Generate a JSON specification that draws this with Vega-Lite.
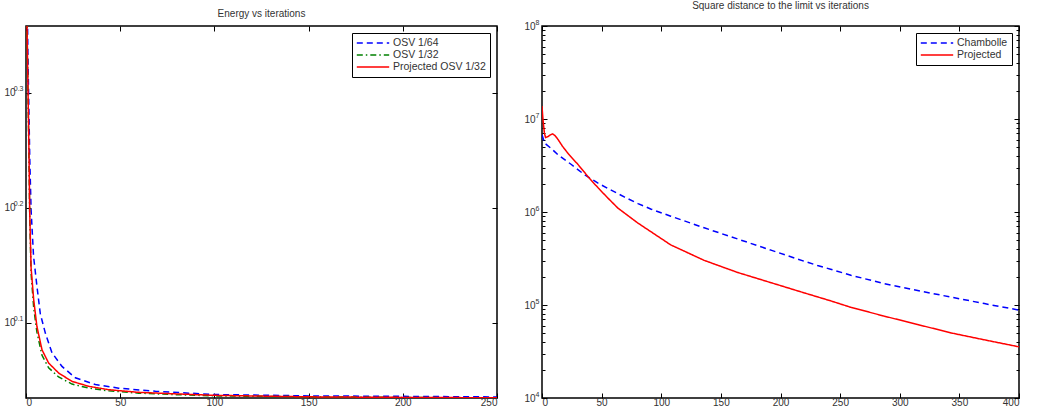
{
  "$schema": "https://vega.github.io/schema/vega-lite/v6.json",
  "padding": {"left": 3, "right": 2, "top": 0, "bottom": 0},
  "spacing": 24,
  "config": {
    "font": "Liberation Sans",
    "view": {"stroke": "black", "strokeWidth": 1.5},
    "axis": {"domain": false, "grid": false, "title": null, "tickColor": "black", "tickSize": -5, "tickWidth": 1, "labelFontSize": 10, "labelColor": "#333", "labelPadding": 4},
    "title": {"fontSize": 10, "fontWeight": "normal", "color": "#333", "offset": 7},
    "legend": {"orient": "top-right", "offset": 7, "strokeColor": "black", "fillColor": "white", "padding": 4, "labelFontSize": 10.5, "labelColor": "#333", "symbolType": "stroke", "symbolSize": 1050, "symbolStrokeWidth": 1.5, "rowPadding": 0, "clipHeight": 12, "labelOffset": 3, "title": null}
  },
  "datasets": {
    "energy": [
      {"it": 0, "v": 3.0, "s": "OSV 1/64"},
      {"it": 1, "v": 2.163, "s": "OSV 1/64"},
      {"it": 2, "v": 1.750, "s": "OSV 1/64"},
      {"it": 2.7, "v": 1.578, "s": "OSV 1/64"},
      {"it": 4, "v": 1.439, "s": "OSV 1/64"},
      {"it": 5.8, "v": 1.355, "s": "OSV 1/64"},
      {"it": 7.6, "v": 1.282, "s": "OSV 1/64"},
      {"it": 10.3, "v": 1.233, "s": "OSV 1/64"},
      {"it": 13.8, "v": 1.186, "s": "OSV 1/64"},
      {"it": 19.1, "v": 1.154, "s": "OSV 1/64"},
      {"it": 26.2, "v": 1.128, "s": "OSV 1/64"},
      {"it": 36.8, "v": 1.113, "s": "OSV 1/64"},
      {"it": 49.2, "v": 1.105, "s": "OSV 1/64"},
      {"it": 68.7, "v": 1.098, "s": "OSV 1/64"},
      {"it": 86.4, "v": 1.094, "s": "OSV 1/64"},
      {"it": 100, "v": 1.091, "s": "OSV 1/64"},
      {"it": 150, "v": 1.088, "s": "OSV 1/64"},
      {"it": 200, "v": 1.087, "s": "OSV 1/64"},
      {"it": 250, "v": 1.0857, "s": "OSV 1/64"},
      {"it": 0, "v": 3.98, "s": "OSV 1/32"},
      {"it": 0.5, "v": 2.30, "s": "OSV 1/32"},
      {"it": 1.06, "v": 1.995, "s": "OSV 1/32"},
      {"it": 1.6, "v": 1.738, "s": "OSV 1/32"},
      {"it": 1.95, "v": 1.567, "s": "OSV 1/32"},
      {"it": 2.7, "v": 1.390, "s": "OSV 1/32"},
      {"it": 4.1, "v": 1.297, "s": "OSV 1/32"},
      {"it": 5.8, "v": 1.236, "s": "OSV 1/32"},
      {"it": 8.5, "v": 1.180, "s": "OSV 1/32"},
      {"it": 12, "v": 1.151, "s": "OSV 1/32"},
      {"it": 17.3, "v": 1.130, "s": "OSV 1/32"},
      {"it": 24.4, "v": 1.114, "s": "OSV 1/32"},
      {"it": 33.3, "v": 1.105, "s": "OSV 1/32"},
      {"it": 43.9, "v": 1.099, "s": "OSV 1/32"},
      {"it": 59.8, "v": 1.094, "s": "OSV 1/32"},
      {"it": 77.5, "v": 1.091, "s": "OSV 1/32"},
      {"it": 100, "v": 1.088, "s": "OSV 1/32"},
      {"it": 150, "v": 1.086, "s": "OSV 1/32"},
      {"it": 200, "v": 1.0845, "s": "OSV 1/32"},
      {"it": 250, "v": 1.0837, "s": "OSV 1/32"},
      {"it": 0, "v": 3.98, "s": "Projected OSV 1/32"},
      {"it": 0.5, "v": 2.30, "s": "Projected OSV 1/32"},
      {"it": 1.06, "v": 2.009, "s": "Projected OSV 1/32"},
      {"it": 1.6, "v": 1.758, "s": "Projected OSV 1/32"},
      {"it": 1.95, "v": 1.578, "s": "Projected OSV 1/32"},
      {"it": 2.7, "v": 1.406, "s": "Projected OSV 1/32"},
      {"it": 4.1, "v": 1.318, "s": "Projected OSV 1/32"},
      {"it": 5.8, "v": 1.250, "s": "Projected OSV 1/32"},
      {"it": 8.5, "v": 1.193, "s": "Projected OSV 1/32"},
      {"it": 12, "v": 1.162, "s": "Projected OSV 1/32"},
      {"it": 17.3, "v": 1.139, "s": "Projected OSV 1/32"},
      {"it": 24.4, "v": 1.120, "s": "Projected OSV 1/32"},
      {"it": 33.3, "v": 1.109, "s": "Projected OSV 1/32"},
      {"it": 43.9, "v": 1.1015, "s": "Projected OSV 1/32"},
      {"it": 59.8, "v": 1.0957, "s": "Projected OSV 1/32"},
      {"it": 77.5, "v": 1.0927, "s": "Projected OSV 1/32"},
      {"it": 100, "v": 1.0892, "s": "Projected OSV 1/32"},
      {"it": 150, "v": 1.0859, "s": "Projected OSV 1/32"},
      {"it": 200, "v": 1.0847, "s": "Projected OSV 1/32"},
      {"it": 250, "v": 1.0839, "s": "Projected OSV 1/32"}
    ],
    "dist": [
      {"it": 0, "v": 6760000, "s": "Chambolle"},
      {"it": 2.2, "v": 5500000, "s": "Chambolle"},
      {"it": 8, "v": 4790000, "s": "Chambolle"},
      {"it": 13.4, "v": 4130000, "s": "Chambolle"},
      {"it": 24.6, "v": 3240000, "s": "Chambolle"},
      {"it": 35.8, "v": 2510000, "s": "Chambolle"},
      {"it": 47, "v": 2040000, "s": "Chambolle"},
      {"it": 58, "v": 1718000, "s": "Chambolle"},
      {"it": 69.3, "v": 1445000, "s": "Chambolle"},
      {"it": 80.5, "v": 1230000, "s": "Chambolle"},
      {"it": 91.6, "v": 1072000, "s": "Chambolle"},
      {"it": 108, "v": 901600, "s": "Chambolle"},
      {"it": 136, "v": 676100, "s": "Chambolle"},
      {"it": 164, "v": 512900, "s": "Chambolle"},
      {"it": 192, "v": 389000, "s": "Chambolle"},
      {"it": 220, "v": 295100, "s": "Chambolle"},
      {"it": 231, "v": 266100, "s": "Chambolle"},
      {"it": 242, "v": 242700, "s": "Chambolle"},
      {"it": 259, "v": 208900, "s": "Chambolle"},
      {"it": 287, "v": 169800, "s": "Chambolle"},
      {"it": 315, "v": 142900, "s": "Chambolle"},
      {"it": 343, "v": 121600, "s": "Chambolle"},
      {"it": 371, "v": 103500, "s": "Chambolle"},
      {"it": 400, "v": 88100, "s": "Chambolle"},
      {"it": 0, "v": 13800000, "s": "Projected"},
      {"it": 0.5, "v": 11200000, "s": "Projected"},
      {"it": 1, "v": 9330000, "s": "Projected"},
      {"it": 2, "v": 7080000, "s": "Projected"},
      {"it": 3, "v": 6310000, "s": "Projected"},
      {"it": 5, "v": 6460000, "s": "Projected"},
      {"it": 7, "v": 6760000, "s": "Projected"},
      {"it": 9, "v": 6920000, "s": "Projected"},
      {"it": 11, "v": 6610000, "s": "Projected"},
      {"it": 13.4, "v": 6030000, "s": "Projected"},
      {"it": 17, "v": 5130000, "s": "Projected"},
      {"it": 21.8, "v": 4270000, "s": "Projected"},
      {"it": 30.2, "v": 3240000, "s": "Projected"},
      {"it": 38.6, "v": 2400000, "s": "Projected"},
      {"it": 47, "v": 1820000, "s": "Projected"},
      {"it": 55.3, "v": 1410000, "s": "Projected"},
      {"it": 63.7, "v": 1100000, "s": "Projected"},
      {"it": 80.5, "v": 759000, "s": "Projected"},
      {"it": 108, "v": 442600, "s": "Projected"},
      {"it": 136, "v": 302000, "s": "Projected"},
      {"it": 164, "v": 223900, "s": "Projected"},
      {"it": 192, "v": 173800, "s": "Projected"},
      {"it": 220, "v": 134900, "s": "Projected"},
      {"it": 242, "v": 110900, "s": "Projected"},
      {"it": 259, "v": 94400, "s": "Projected"},
      {"it": 287, "v": 75900, "s": "Projected"},
      {"it": 315, "v": 61700, "s": "Projected"},
      {"it": 343, "v": 50100, "s": "Projected"},
      {"it": 371, "v": 42200, "s": "Projected"},
      {"it": 400, "v": 35500, "s": "Projected"}
    ]
  },
  "hconcat": [
    {
      "width": 471,
      "height": 372,
      "title": {"text": "Energy vs iterations"},
      "layer": [
        {
          "data": {"name": "energy"},
          "mark": {"type": "line", "clip": true, "strokeWidth": 1.5},
          "encoding": {
            "x": {"field": "it", "type": "quantitative", "scale": {"domain": [0, 250], "nice": false, "zero": false}, "axis": {"orient": "bottom", "values": [0, 50, 100, 150, 200, 250]}},
            "y": {"field": "v", "type": "quantitative", "scale": {"type": "log", "domain": [1.0834, 2.2803], "nice": false}, "axis": {"orient": "left", "values": [1.258925, 1.584893, 1.995262], "labelExpr": "'10'", "labelPadding": 16}},
            "color": {"field": "s", "type": "nominal", "scale": {"domain": ["OSV 1/64", "OSV 1/32", "Projected OSV 1/32"], "range": ["#0000ff", "#008000", "#ff0000"]}, "legend": {"title": null}},
            "strokeDash": {"field": "s", "type": "nominal", "scale": {"domain": ["OSV 1/64", "OSV 1/32", "Projected OSV 1/32"], "range": [[6, 4], [6, 3, 1.5, 3], [1, 0]]}, "legend": {"title": null}}
          }
        },
        {
          "data": {"values": [{"it": 100, "v": 1.5}]},
          "mark": {"type": "point", "opacity": 0, "clip": true},
          "encoding": {
            "x": {"field": "it", "type": "quantitative", "axis": {"orient": "top", "labels": false, "values": [0, 50, 100, 150, 200, 250]}},
            "y": {"field": "v", "type": "quantitative", "axis": {"orient": "right", "labels": false, "values": [1.258925, 1.584893, 1.995262]}}
          }
        },
        {
          "data": {"values": [{"it": 100, "v": 1.5}]},
          "mark": {"type": "point", "opacity": 0, "clip": true},
          "encoding": {
            "x": {"field": "it", "type": "quantitative", "axis": null},
            "y": {"field": "v", "type": "quantitative", "axis": {"orient": "left", "ticks": false, "values": [1.258925, 1.584893, 1.995262], "labelExpr": "datum.value > 1.9 ? '0.3' : datum.value > 1.5 ? '0.2' : '0.1'", "labelFontSize": 7, "labelOffset": -4, "labelPadding": 3}}
          }
        }
      ],
      "resolve": {"axis": {"x": "independent", "y": "independent"}}
    },
    {
      "width": 477,
      "height": 372,
      "title": {"text": "Square distance to the limit vs iterations"},
      "layer": [
        {
          "data": {"name": "dist"},
          "mark": {"type": "line", "clip": true, "strokeWidth": 1.5},
          "encoding": {
            "x": {"field": "it", "type": "quantitative", "scale": {"domain": [0, 400], "nice": false, "zero": false}, "axis": {"orient": "bottom", "values": [0, 50, 100, 150, 200, 250, 300, 350, 400]}},
            "y": {"field": "v", "type": "quantitative", "scale": {"type": "log", "domain": [10000, 100000000], "nice": false}, "axis": {"orient": "left", "values": [10000, 100000, 1000000, 10000000, 100000000], "labelExpr": "'10'", "labelPadding": 12}},
            "color": {"field": "s", "type": "nominal", "scale": {"domain": ["Chambolle", "Projected"], "range": ["#0000ff", "#ff0000"]}, "legend": {"title": null}},
            "strokeDash": {"field": "s", "type": "nominal", "scale": {"domain": ["Chambolle", "Projected"], "range": [[6, 4], [1, 0]]}, "legend": {"title": null}}
          }
        },
        {
          "data": {"values": [{"it": 100, "v": 100000}]},
          "mark": {"type": "point", "opacity": 0, "clip": true},
          "encoding": {
            "x": {"field": "it", "type": "quantitative", "axis": {"orient": "top", "labels": false, "values": [0, 50, 100, 150, 200, 250, 300, 350, 400]}},
            "y": {"field": "v", "type": "quantitative", "axis": {"orient": "right", "labels": false, "values": [10000, 20000, 30000, 40000, 50000, 60000, 70000, 80000, 90000, 100000, 200000, 300000, 400000, 500000, 600000, 700000, 800000, 900000, 1000000, 2000000, 3000000, 4000000, 5000000, 6000000, 7000000, 8000000, 9000000, 10000000, 20000000, 30000000, 40000000, 50000000, 60000000, 70000000, 80000000, 90000000, 100000000], "tickSize": {"condition": {"test": "datum.value == 10000 || datum.value == 100000 || datum.value == 1000000 || datum.value == 10000000 || datum.value == 100000000", "value": -5}, "value": -3}}}
          }
        },
        {
          "data": {"values": [{"it": 100, "v": 100000}]},
          "mark": {"type": "point", "opacity": 0, "clip": true},
          "encoding": {
            "x": {"field": "it", "type": "quantitative", "axis": null},
            "y": {"field": "v", "type": "quantitative", "axis": {"orient": "left", "labels": false, "tickSize": -3, "values": [20000, 30000, 40000, 50000, 60000, 70000, 80000, 90000, 200000, 300000, 400000, 500000, 600000, 700000, 800000, 900000, 2000000, 3000000, 4000000, 5000000, 6000000, 7000000, 8000000, 9000000, 20000000, 30000000, 40000000, 50000000, 60000000, 70000000, 80000000, 90000000]}}
          }
        },
        {
          "data": {"values": [{"it": 100, "v": 100000}]},
          "mark": {"type": "point", "opacity": 0, "clip": true},
          "encoding": {
            "x": {"field": "it", "type": "quantitative", "axis": null},
            "y": {"field": "v", "type": "quantitative", "axis": {"orient": "left", "ticks": false, "values": [10000, 100000, 1000000, 10000000, 100000000], "labelExpr": "datum.value == 10000 ? '4' : datum.value == 100000 ? '5' : datum.value == 1000000 ? '6' : datum.value == 10000000 ? '7' : '8'", "labelFontSize": 7, "labelOffset": -4, "labelPadding": 3}}
          }
        }
      ],
      "resolve": {"axis": {"x": "independent", "y": "independent"}, "scale": {"color": "independent", "strokeDash": "independent"}}
    }
  ],
  "resolve": {"scale": {"color": "independent", "strokeDash": "independent"}, "legend": {"color": "independent", "strokeDash": "independent"}}
}
